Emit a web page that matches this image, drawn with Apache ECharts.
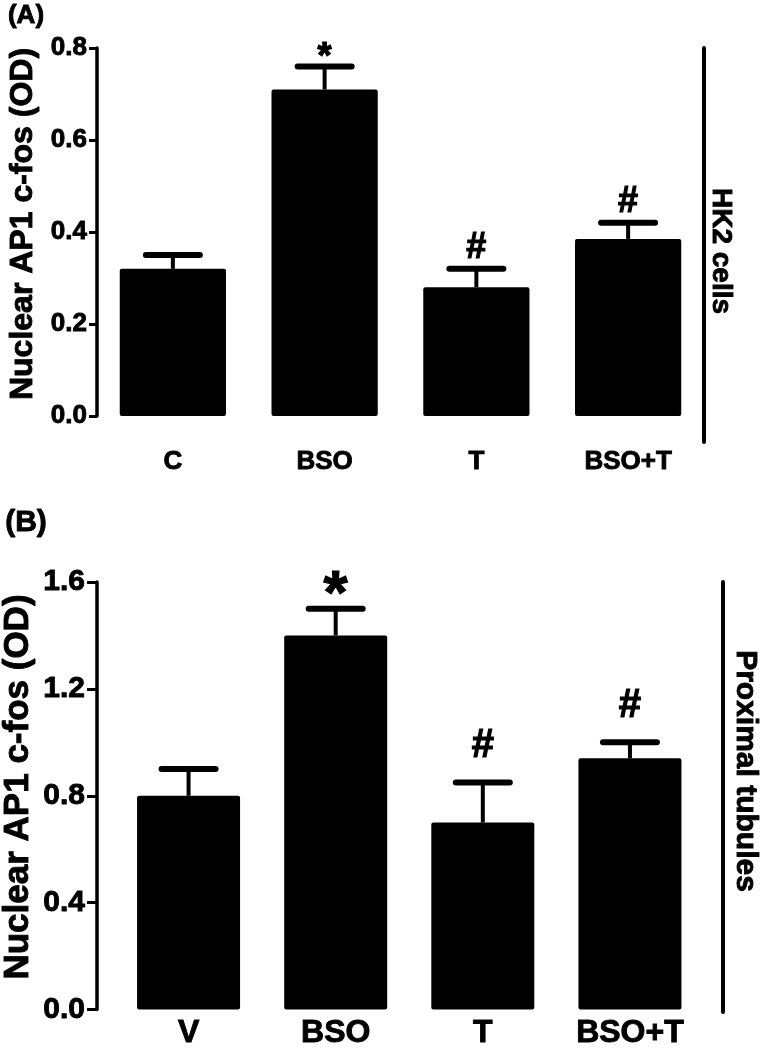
<!DOCTYPE html>
<html>
<head>
<meta charset="utf-8">
<script src="https://cdn.jsdelivr.net/npm/echarts@6/dist/echarts.min.js"></script>
<style>
html,body{margin:0;padding:0;background:#fff;}
#c{width:765px;height:1050px;}
</style>
</head>
<body>
<div id="c"></div>
<script>
// ---- data ----
const catsA = ['C', 'BSO', 'T', 'BSO+T'];
const meanA = [0.32, 0.71, 0.28, 0.385];
const errTopA = [0.35, 0.76, 0.32, 0.42];
const sigA = ['', '*', '#', '#'];

const catsB = ['V', 'BSO', 'T', 'BSO+T'];
const meanB = [0.80, 1.40, 0.70, 0.94];
const errTopB = [0.90, 1.50, 0.85, 1.00];
const sigB = ['', '*', '#', '#'];

const yTitle = 'Nuclear AP1 c-fos (OD)';
const sideA = 'HK2 cells';
const sideB = 'Proximal tubules';

const FONT = '"Liberation Sans", Arial, Helvetica, sans-serif';
const HEAVY = { textBorderColor: '#000', textBorderWidth: 0.9 };

function makeErr(sig, capHalf, starSize, starGap, hashSize, hashGap) {
  return function (params, api) {
    const i = api.value(0);
    const top = api.coord([i, api.value(1)]);
    const base = api.coord([i, api.value(2)]);
    const s = sig[params.dataIndex];
    const children = [
      { type: 'line', shape: { x1: top[0], y1: base[1], x2: top[0], y2: top[1] },
        style: { stroke: '#000', lineWidth: 4 } },
      { type: 'line', shape: { x1: top[0] - capHalf, y1: top[1], x2: top[0] + capHalf, y2: top[1] },
        style: { stroke: '#000', lineWidth: 6, lineCap: 'round' } }
    ];
    if (s) {
      const isStar = s === '*';
      children.push({
        type: 'text',
        style: {
          text: s, x: top[0], y: top[1] - (isStar ? starGap : hashGap),
          align: 'center', verticalAlign: 'bottom',
          font: 'bold ' + (isStar ? starSize : hashSize) + 'px ' + FONT,
          fill: '#000', stroke: '#000', lineWidth: 1.2
        }
      });
    }
    return { type: 'group', children: children };
  };
}

const chart = echarts.init(document.getElementById('c'), null, { renderer: 'canvas' });

function gtext(x, y, rot, text, size, extra) {
  return Object.assign({ type: 'text', x: x, y: y, rotation: rot,
    style: { text: text, font: 'bold ' + size + 'px ' + FONT, fill: '#000',
      stroke: '#000', lineWidth: 0.9, align: 'center', verticalAlign: 'middle' } }, extra || {});
}

chart.setOption({
  backgroundColor: '#fff',
  animation: false,
  grid: [
    { left: 97, right: 61, top: 48, bottom: 634 },
    { left: 115, right: 61.5, top: 582, bottom: 38 }
  ],
  xAxis: [
    { gridIndex: 0, type: 'category', data: catsA,
      axisLine: { show: false }, axisTick: { show: false },
      axisLabel: Object.assign({ margin: 33, color: '#000', fontSize: 26, fontWeight: 'bold', fontFamily: FONT }, HEAVY) },
    { gridIndex: 1, type: 'category', data: catsB,
      axisLine: { show: false }, axisTick: { show: false },
      axisLabel: Object.assign({ margin: 8, color: '#000', fontSize: 32, fontWeight: 'bold', fontFamily: FONT }, HEAVY) }
  ],
  yAxis: [
    { gridIndex: 0, type: 'value', min: 0, max: 0.8, interval: 0.2,
      axisLine: { show: true, lineStyle: { color: '#000', width: 3.5 } },
      axisTick: { show: true, length: 8, lineStyle: { color: '#000', width: 3 } },
      splitLine: { show: false },
      axisLabel: Object.assign({ margin: 10, color: '#000', fontSize: 26, fontWeight: 'bold', fontFamily: FONT,
        formatter: v => v.toFixed(1) }, HEAVY) },
    { gridIndex: 1, type: 'value', min: 0, max: 1.6, interval: 0.4, offset: 18,
      axisLine: { show: true, lineStyle: { color: '#000', width: 3.5 } },
      axisTick: { show: true, length: 10, lineStyle: { color: '#000', width: 3 } },
      splitLine: { show: false },
      axisLabel: Object.assign({ margin: 12, color: '#000', fontSize: 30, fontWeight: 'bold', fontFamily: FONT,
        formatter: v => v.toFixed(1) }, HEAVY) }
  ],
  series: [
    { type: 'bar', xAxisIndex: 0, yAxisIndex: 0, data: meanA, barWidth: '70%',
      itemStyle: { color: '#000', borderRadius: 2 } },
    { type: 'custom', xAxisIndex: 0, yAxisIndex: 0,
      data: catsA.map((c, i) => [i, errTopA[i], meanA[i]]),
      renderItem: makeErr(sigA, 27, 36, -10, 36, 3), z: 5 },
    { type: 'bar', xAxisIndex: 1, yAxisIndex: 1, data: meanB, barWidth: '70%',
      itemStyle: { color: '#000', borderRadius: 2 } },
    { type: 'custom', xAxisIndex: 1, yAxisIndex: 1,
      data: catsB.map((c, i) => [i, errTopB[i], meanB[i]]),
      renderItem: makeErr(sigB, 27, 62, -18, 40, 16), z: 5 }
  ],
  graphic: [
    gtext(26, 16, 0, '(A)', 26),
    gtext(26, 523, 0, '(B)', 30),
    gtext(23, 224, Math.PI / 2, yTitle, 32),
    gtext(18, 787, Math.PI / 2, yTitle, 35),
    { type: 'line', shape: { x1: 704, y1: 48, x2: 704, y2: 442 },
      style: { stroke: '#000', lineWidth: 4, lineCap: 'round' } },
    { type: 'line', shape: { x1: 723, y1: 582, x2: 723, y2: 1012 },
      style: { stroke: '#000', lineWidth: 4, lineCap: 'round' } },
    gtext(721, 251, -Math.PI / 2, sideA, 28),
    gtext(745, 771, -Math.PI / 2, sideB, 30)
  ]
});
</script>
</body>
</html>
